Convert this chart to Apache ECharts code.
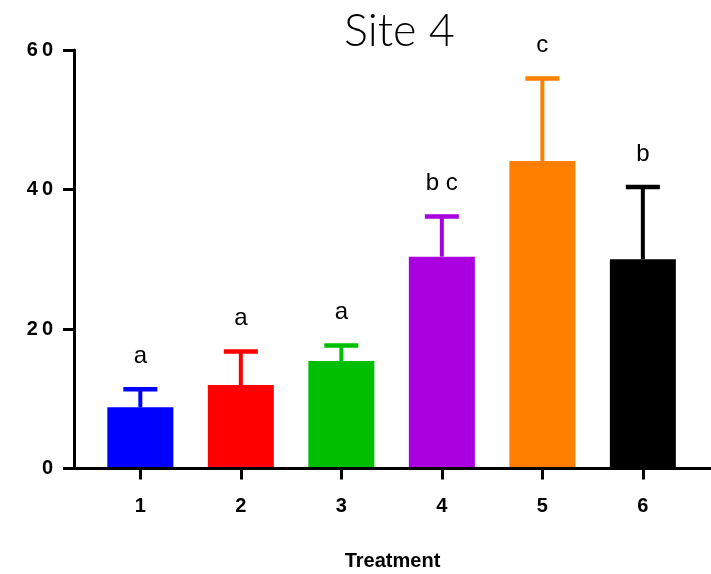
<!DOCTYPE html>
<html>
<head>
<meta charset="utf-8">
<script src="https://cdn.jsdelivr.net/npm/echarts@6/dist/echarts.min.js"></script>
<style>html,body{margin:0;padding:0;background:#fff;}#c{width:711px;height:574px;}</style>
</head>
<body>
<div id="c"></div>
<script>
var treatments = [1, 2, 3, 4, 5, 6];
var means = [8.77, 11.97, 15.41, 30.37, 44.09, 29.99];
var errTops = [11.35, 16.77, 17.63, 36.13, 55.91, 40.36];
var letters = ['a', 'a', 'a', 'b c', 'c', 'b'];
var colors = ['#0000FF', '#FF0000', '#00BF00', '#AA00E0', '#FF8000', '#000000'];
var yTicks = [0, 20, 40, 60];

var chart = echarts.init(document.getElementById('c'));
var barData = treatments.map(function (t, i) { return [t, means[i]]; });
var errData = treatments.map(function (t, i) { return [t, means[i], errTops[i], i]; });

chart.setOption({
  animation: false,
  title: {
    text: 'Site 4',
    left: 339,
    top: 4,
    textStyle: { fontFamily: 'Lato', fontSize: 45, fontWeight: 300, color: '#000' }
  },
  grid: { left: 74, right: 0, top: 50, bottom: 105.5, outerBoundsMode: 'none', containLabel: false },
  xAxis: {
    type: 'value',
    min: 0.34,
    max: 6.678,
    z: 5,
    name: 'Treatment',
    nameLocation: 'middle',
    nameGap: 83,
    nameTextStyle: { fontFamily: 'Liberation Sans', fontSize: 20, fontWeight: 'bold', color: '#000' },
    axisLine: { show: true, lineStyle: { color: '#000', width: 3 } },
    axisTick: { show: true, customValues: treatments, length: 11, lineStyle: { color: '#000', width: 3 } },
    axisLabel: { show: true, customValues: treatments, margin: 28, fontFamily: 'Liberation Sans', fontSize: 20, fontWeight: 'bold', color: '#000' },
    splitLine: { show: false }
  },
  yAxis: {
    type: 'value',
    min: 0,
    max: 60,
    interval: 20,
    z: 5,
    axisLine: { show: true, lineStyle: { color: '#000', width: 3 } },
    axisTick: { show: true, length: 11, lineStyle: { color: '#000', width: 3 } },
    axisLabel: {
      margin: 21, fontFamily: 'Liberation Sans', fontSize: 20, fontWeight: 'bold', color: '#000',
      formatter: function (v) { return String(v).split('').join('\u2009'); }
    },
    splitLine: { show: false }
  },
  series: [
    {
      type: 'bar',
      data: barData,
      barWidth: 66,
      itemStyle: { color: function (p) { return colors[p.dataIndex]; } }
    },
    {
      type: 'custom',
      data: errData,
      z: 3,
      renderItem: function (params, api) {
        var i = api.value(3);
        var base = api.coord([api.value(0), api.value(1)]);
        var top = api.coord([api.value(0), api.value(2)]);
        var c = colors[i];
        return {
          type: 'group',
          children: [
            { type: 'line', shape: { x1: base[0], y1: base[1], x2: top[0], y2: top[1] }, style: { stroke: c, lineWidth: 4 } },
            { type: 'line', shape: { x1: top[0] - 17, y1: top[1], x2: top[0] + 17, y2: top[1] }, style: { stroke: c, lineWidth: 4.5 } },
            { type: 'text', x: top[0], y: top[1] - 21, style: { text: letters[i], fill: '#000', fontFamily: 'Liberation Sans', fontSize: 24, align: 'center', verticalAlign: 'bottom' } }
          ]
        };
      }
    }
  ]
});
</script>
</body>
</html>
